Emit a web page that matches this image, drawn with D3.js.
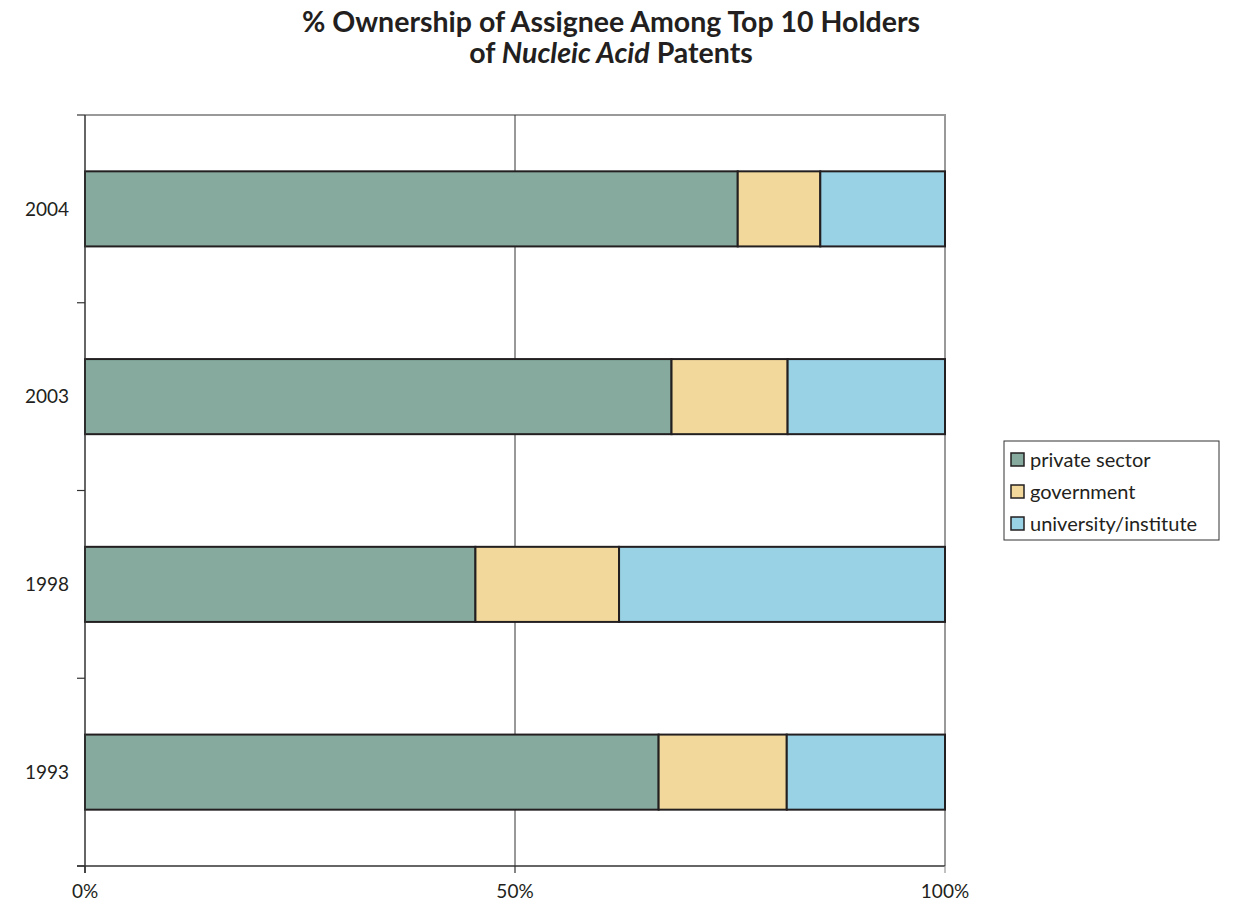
<!DOCTYPE html>
<html>
<head>
<meta charset="utf-8">
<script src="https://cdn.jsdelivr.net/npm/d3@7"></script>
<style>
  html, body { margin: 0; padding: 0; background: #fff; }
  svg { display: block; font-family: Lato, "Open Sans", sans-serif; }
</style>
</head>
<body>
<svg id="chart" width="1243" height="904"></svg>
<script>
// Years, bottom to top
const years = ["1993", "1998", "2003", "2004"];
// Share of patents held by each assignee type (%)
const privateSector = [66.7, 45.4, 68.2, 75.9];
const government = [14.9, 16.7, 13.5, 9.6];
const university = [18.4, 37.9, 18.3, 14.5];
const seriesNames = ["private sector", "government", "university/institute"];
const seriesColors = ["#87aa9f", "#f2d99b", "#99d2e5"];
const xTicks = [0, 50, 100];
const xTickLabels = ["0%", "50%", "100%"];

const svg = d3.select("#chart");
const m = { left: 85, right: 945, top: 115, bottom: 866 };

const x = d3.scaleLinear().domain([0, 100]).range([m.left, m.right]);
const y = d3.scaleBand().domain(years.slice().reverse()).range([m.top, m.bottom]).paddingInner(0.6).paddingOuter(0.3);

// Stacked layout
const table = years.map((yr, i) => ({
  year: yr,
  "private sector": privateSector[i],
  "government": government[i],
  "university/institute": university[i]
}));
const stacked = d3.stack().keys(seriesNames)(table);

// Title
const title = svg.append("text")
  .attr("x", 611).attr("y", 32)
  .attr("text-anchor", "middle")
  .attr("font-size", 28.5).attr("font-weight", "bold").attr("fill", "#231f20");
title.append("tspan").text("% Ownership of Assignee Among Top 10 Holders");
const t2 = svg.append("text")
  .attr("x", 611).attr("y", 63)
  .attr("text-anchor", "middle")
  .attr("font-size", 28.5).attr("font-weight", "bold").attr("fill", "#231f20");
t2.append("tspan").text("of ");
t2.append("tspan").attr("font-style", "italic").text("Nucleic Acid");
t2.append("tspan").text(" Patents");

// Plot frame (top and right, light gray)
svg.append("path")
  .attr("d", `M${m.left},${m.top}H${m.right}V${m.bottom}`)
  .attr("fill", "none").attr("stroke", "#999").attr("stroke-width", 2);

// Vertical gridline at 50%
svg.append("line")
  .attr("x1", x(50)).attr("x2", x(50))
  .attr("y1", m.top).attr("y2", m.bottom)
  .attr("stroke", "#333").attr("stroke-width", 1);

// Bars
svg.append("g").selectAll("g").data(stacked).join("g")
  .attr("fill", (d, i) => seriesColors[i])
  .selectAll("rect").data(d => d).join("rect")
  .attr("x", d => x(d[0]))
  .attr("width", d => x(d[1]) - x(d[0]))
  .attr("y", d => y(d.data.year))
  .attr("height", y.bandwidth())
  .attr("stroke", "#231f20").attr("stroke-width", 2);

// Y axis: ticks between categories
const yBoundaries = [m.top].concat(years.map(yr => y(yr) + y.bandwidth() / 2 + y.step() / 2));
const yAxis = svg.append("g");
yAxis.append("line")
  .attr("x1", m.left).attr("x2", m.left)
  .attr("y1", m.top).attr("y2", m.bottom + 7)
  .attr("stroke", "#333").attr("stroke-width", 1.5);
yAxis.selectAll("line.tick").data(yBoundaries).join("line")
  .attr("class", "tick")
  .attr("x1", m.left - 8).attr("x2", m.left)
  .attr("y1", d => d).attr("y2", d => d)
  .attr("stroke", "#333").attr("stroke-width", 1.2);
yAxis.selectAll("text").data(years).join("text")
  .attr("x", 69)
  .attr("y", d => y(d) + y.bandwidth() / 2)
  .attr("dy", "0.35em")
  .attr("text-anchor", "end")
  .attr("font-size", 19).attr("fill", "#231f20")
  .text(d => d);

// X axis
const xAxis = svg.append("g");
xAxis.append("line")
  .attr("x1", m.left - 8).attr("x2", m.right)
  .attr("y1", m.bottom).attr("y2", m.bottom)
  .attr("stroke", "#333").attr("stroke-width", 1.5);
xAxis.selectAll("line.tick").data(xTicks).join("line")
  .attr("class", "tick")
  .attr("x1", d => x(d)).attr("x2", d => x(d))
  .attr("y1", m.bottom).attr("y2", m.bottom + 7)
  .attr("stroke", d => d === 100 ? "#999" : "#333").attr("stroke-width", 1.2);
xAxis.selectAll("text").data(xTicks).join("text")
  .attr("x", d => x(d))
  .attr("y", 898)
  .attr("text-anchor", "middle")
  .attr("font-size", 19).attr("fill", "#231f20")
  .text((d, i) => xTickLabels[i]);

// Legend
const lg = svg.append("g").attr("transform", "translate(1004,441)");
lg.append("rect")
  .attr("width", 215).attr("height", 99)
  .attr("fill", "#fff").attr("stroke", "#333").attr("stroke-width", 1);
const items = lg.selectAll("g").data(seriesNames).join("g")
  .attr("transform", (d, i) => `translate(0,${19 + i * 32})`);
items.append("rect")
  .attr("x", 7).attr("y", -7).attr("width", 13).attr("height", 13)
  .attr("fill", (d, i) => seriesColors[i])
  .attr("stroke", "#231f20").attr("stroke-width", 1.5);
items.append("text")
  .attr("x", 26).attr("y", 0).attr("dy", "0.35em")
  .attr("font-size", 20).attr("fill", "#231f20")
  .text(d => d);
</script>
</body>
</html>
